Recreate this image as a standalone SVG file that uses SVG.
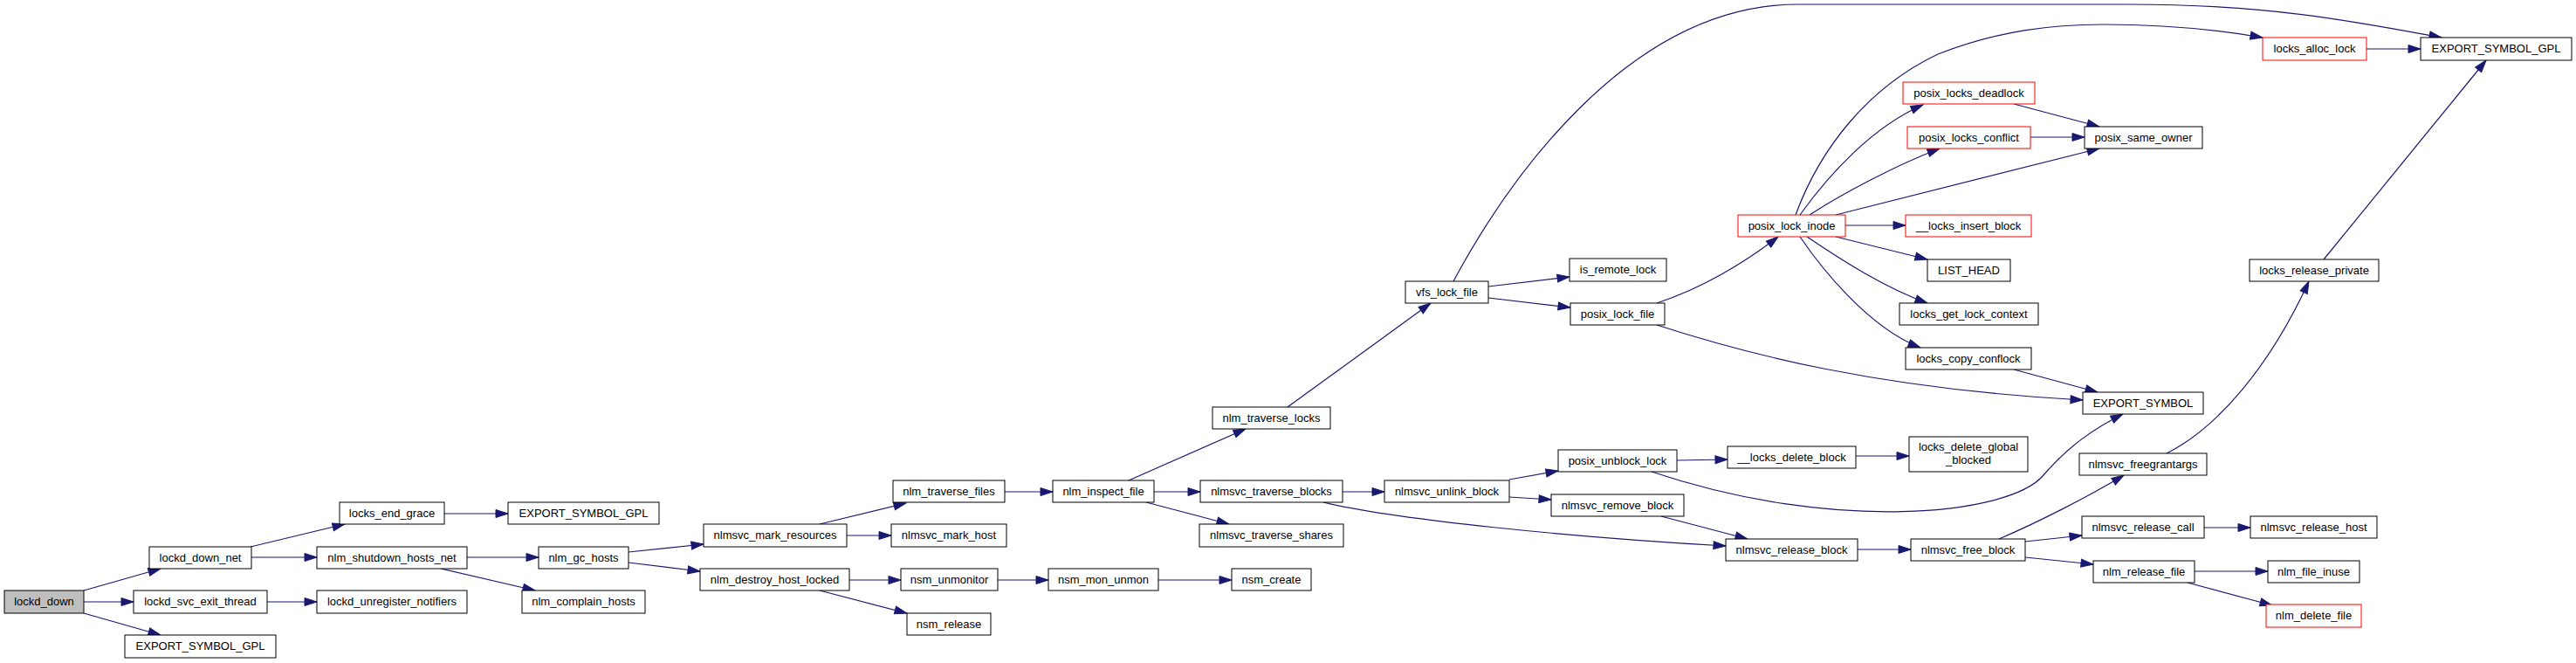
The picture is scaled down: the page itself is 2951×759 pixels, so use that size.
<svg xmlns="http://www.w3.org/2000/svg" width="2951" height="759" viewBox="0 0 2951 759">
<style>
.n rect{fill:#fff;stroke:#000;stroke-width:1}
.n.r rect{stroke:#ff0000}
.n.g rect{fill:#bfbfbf}
.n text{font-family:"Liberation Sans",Arial,Helvetica,sans-serif;font-size:13px;text-anchor:middle;fill:#000}
#edges path{fill:none;stroke:#191970;stroke-width:1.2;marker-end:url(#ah)}
</style>
<defs>
<marker id="ah" markerUnits="userSpaceOnUse" viewBox="0 0 14 10" markerWidth="14" markerHeight="10" refX="14" refY="5" orient="auto" overflow="visible">
<path d="M0,0.5 L14,5 L0,9.5 z" fill="#191970" stroke="#191970" stroke-width="1"/>
</marker>
</defs>
<rect width="2951" height="759" fill="#fff"/>
<g id="edges">
<path d="M96,676 L184,651"/>
<path d="M96,689 L153,689"/>
<path d="M96,702 L184,727"/>
<path d="M287,626 L395,600"/>
<path d="M288,638 L363,638"/>
<path d="M306,689 L363,689"/>
<path d="M509,588 L582,588"/>
<path d="M535,638 L617,638"/>
<path d="M505,651 L613,676"/>
<path d="M720,632 L806,623"/>
<path d="M720,644 L802,654"/>
<path d="M939,600 L1038,576"/>
<path d="M970,613 L1021,613"/>
<path d="M973,664 L1032,664"/>
<path d="M939,676 L1039,702"/>
<path d="M1151,563 L1206,563"/>
<path d="M1143,664 L1201,664"/>
<path d="M1327,664 L1411,664"/>
<path d="M1293,550 L1427,491"/>
<path d="M1322,563 L1375,563"/>
<path d="M1313,575 L1408,600"/>
<path d="M1475,466 L1639,347"/>
<path d="M1538,563 L1586,563"/>
<path d="M1516,575 C1600,595 1800,615 1977,625"/>
<path d="M1729,549 L1785,539"/>
<path d="M1729,569 L1777,572"/>
<path d="M1921,527 L1979,526"/>
<path d="M1892,540 C2100,610 2300,590 2340,545 C2370,510 2400,490 2432,474"/>
<path d="M1903,591 L2002,617"/>
<path d="M2126,522 L2187,522"/>
<path d="M2128,629 L2189,629"/>
<path d="M2290,617 C2330,600 2390,570 2433,544"/>
<path d="M2320,620 L2385,613"/>
<path d="M2320,638 L2398,646"/>
<path d="M2482,519 C2540,490 2600,420 2645,322"/>
<path d="M2525,604 L2578,604"/>
<path d="M2514,654 L2598,654"/>
<path d="M2506,667 L2603,693"/>
<path d="M1665,322 C1720,220 1860,5 2060,5 L2440,5 C2600,5 2700,25 2797,43"/>
<path d="M1705,328 L1798,317"/>
<path d="M1705,341 L1799,352"/>
<path d="M1898,347 C1950,330 2000,300 2037,271"/>
<path d="M1898,372 C2000,405 2150,445 2386,458"/>
<path d="M2057,246 C2085,170 2140,100 2220,62 C2290,35 2350,28 2410,28 C2480,28 2540,34 2592,43"/>
<path d="M2062,246 C2095,200 2145,145 2203,120"/>
<path d="M2073,246 C2110,222 2170,190 2222,170"/>
<path d="M2103,246 L2405,170"/>
<path d="M2114,258 L2183,258"/>
<path d="M2103,271 L2208,297"/>
<path d="M2070,271 C2110,298 2160,330 2208,347"/>
<path d="M2062,271 C2085,305 2140,375 2200,398"/>
<path d="M2307,119 L2405,145"/>
<path d="M2326,157 L2388,157"/>
<path d="M2307,423 L2403,449"/>
<path d="M2711,56 L2773,56"/>
<path d="M2662,297 L2848,69"/>
</g>
<g id="n1" class="n g"><rect x="5" y="676" width="91" height="26"/><text x="50.5" y="693">lockd_down</text></g>
<g id="n2" class="n"><rect x="171" y="626" width="117" height="25"/><text x="229.5" y="643">lockd_down_net</text></g>
<g id="n3" class="n"><rect x="153" y="676" width="153" height="26"/><text x="229.5" y="693">lockd_svc_exit_thread</text></g>
<g id="n4" class="n"><rect x="143" y="727" width="173" height="26"/><text x="229.5" y="744">EXPORT_SYMBOL_GPL</text></g>
<g id="n5" class="n"><rect x="389" y="575" width="120" height="25"/><text x="449" y="592">locks_end_grace</text></g>
<g id="n6" class="n"><rect x="363" y="626" width="172" height="25"/><text x="449" y="643">nlm_shutdown_hosts_net</text></g>
<g id="n7" class="n"><rect x="363" y="676" width="172" height="26"/><text x="449" y="693">lockd_unregister_notifiers</text></g>
<g id="n8" class="n"><rect x="582" y="575" width="173" height="25"/><text x="668.5" y="592">EXPORT_SYMBOL_GPL</text></g>
<g id="n9" class="n"><rect x="617" y="626" width="103" height="25"/><text x="668.5" y="643">nlm_gc_hosts</text></g>
<g id="n10" class="n"><rect x="598" y="676" width="141" height="26"/><text x="668.5" y="693">nlm_complain_hosts</text></g>
<g id="n11" class="n"><rect x="806" y="600" width="164" height="26"/><text x="888" y="617">nlmsvc_mark_resources</text></g>
<g id="n12" class="n"><rect x="802" y="651" width="171" height="25"/><text x="887.5" y="668">nlm_destroy_host_locked</text></g>
<g id="n13" class="n"><rect x="1023" y="550" width="128" height="25"/><text x="1087" y="567">nlm_traverse_files</text></g>
<g id="n14" class="n"><rect x="1021" y="600" width="132" height="26"/><text x="1087" y="617">nlmsvc_mark_host</text></g>
<g id="n15" class="n"><rect x="1032" y="651" width="111" height="25"/><text x="1087.5" y="668">nsm_unmonitor</text></g>
<g id="n16" class="n"><rect x="1039" y="702" width="96" height="25"/><text x="1087" y="719">nsm_release</text></g>
<g id="n17" class="n"><rect x="1206" y="550" width="116" height="25"/><text x="1264" y="567">nlm_inspect_file</text></g>
<g id="n18" class="n"><rect x="1201" y="651" width="126" height="25"/><text x="1264" y="668">nsm_mon_unmon</text></g>
<g id="n19" class="n"><rect x="1389" y="466" width="135" height="25"/><text x="1456.5" y="483">nlm_traverse_locks</text></g>
<g id="n20" class="n"><rect x="1375" y="550" width="163" height="25"/><text x="1456.5" y="567">nlmsvc_traverse_blocks</text></g>
<g id="n21" class="n"><rect x="1374" y="600" width="165" height="26"/><text x="1456.5" y="617">nlmsvc_traverse_shares</text></g>
<g id="n22" class="n"><rect x="1411" y="651" width="91" height="25"/><text x="1456.5" y="668">nsm_create</text></g>
<g id="n23" class="n"><rect x="1586" y="550" width="143" height="25"/><text x="1657.5" y="567">nlmsvc_unlink_block</text></g>
<g id="n24" class="n"><rect x="1785" y="515" width="136" height="25"/><text x="1853" y="532">posix_unblock_lock</text></g>
<g id="n25" class="n"><rect x="1777" y="566" width="152" height="25"/><text x="1853" y="583">nlmsvc_remove_block</text></g>
<g id="n26" class="n"><rect x="1610" y="322" width="95" height="25"/><text x="1657.5" y="339">vfs_lock_file</text></g>
<g id="n27" class="n"><rect x="1798" y="296" width="111" height="26"/><text x="1853.5" y="313">is_remote_lock</text></g>
<g id="n28" class="n"><rect x="1799" y="347" width="108" height="25"/><text x="1853" y="364">posix_lock_file</text></g>
<g id="n29" class="n r"><rect x="1991" y="246" width="123" height="25"/><text x="2052.5" y="263">posix_lock_inode</text></g>
<g id="n30" class="n r"><rect x="2180" y="94" width="151" height="25"/><text x="2255.5" y="111">posix_locks_deadlock</text></g>
<g id="n31" class="n r"><rect x="2185" y="145" width="141" height="25"/><text x="2255.5" y="162">posix_locks_conflict</text></g>
<g id="n32" class="n r"><rect x="2183" y="246" width="144" height="25"/><text x="2255" y="263">__locks_insert_block</text></g>
<g id="n33" class="n"><rect x="2208" y="297" width="95" height="25"/><text x="2255.5" y="314">LIST_HEAD</text></g>
<g id="n34" class="n"><rect x="2176" y="347" width="159" height="25"/><text x="2255.5" y="364">locks_get_lock_context</text></g>
<g id="n35" class="n"><rect x="2183" y="398" width="144" height="25"/><text x="2255" y="415">locks_copy_conflock</text></g>
<g id="n36" class="n"><rect x="2388" y="145" width="135" height="25"/><text x="2455.5" y="162">posix_same_owner</text></g>
<g id="n37" class="n r"><rect x="2592" y="43" width="119" height="26"/><text x="2651.5" y="60">locks_alloc_lock</text></g>
<g id="n38" class="n"><rect x="2773" y="43" width="173" height="26"/><text x="2859.5" y="60">EXPORT_SYMBOL_GPL</text></g>
<g id="n39" class="n"><rect x="2577" y="297" width="148" height="25"/><text x="2651" y="314">locks_release_private</text></g>
<g id="n40" class="n"><rect x="2386" y="449" width="138" height="25"/><text x="2455" y="466">EXPORT_SYMBOL</text></g>
<g id="n41" class="n"><rect x="1979" y="511" width="147" height="25"/><text x="2052.5" y="528">__locks_delete_block</text></g>
<g id="n42" class="n"><rect x="2187" y="500" width="136" height="40"/><text x="2255" y="516">locks_delete_global</text><text x="2255" y="531">_blocked</text></g>
<g id="n43" class="n"><rect x="2382" y="519" width="146" height="25"/><text x="2455" y="536">nlmsvc_freegrantargs</text></g>
<g id="n44" class="n"><rect x="1977" y="617" width="151" height="25"/><text x="2052.5" y="634">nlmsvc_release_block</text></g>
<g id="n45" class="n"><rect x="2189" y="617" width="131" height="25"/><text x="2254.5" y="634">nlmsvc_free_block</text></g>
<g id="n46" class="n"><rect x="2385" y="591" width="140" height="25"/><text x="2455" y="608">nlmsvc_release_call</text></g>
<g id="n47" class="n"><rect x="2398" y="642" width="116" height="25"/><text x="2456" y="659">nlm_release_file</text></g>
<g id="n48" class="n"><rect x="2578" y="591" width="145" height="25"/><text x="2650.5" y="608">nlmsvc_release_host</text></g>
<g id="n49" class="n"><rect x="2598" y="642" width="105" height="25"/><text x="2650.5" y="659">nlm_file_inuse</text></g>
<g id="n50" class="n r"><rect x="2596" y="692" width="109" height="26"/><text x="2650.5" y="709">nlm_delete_file</text></g>
</svg>
